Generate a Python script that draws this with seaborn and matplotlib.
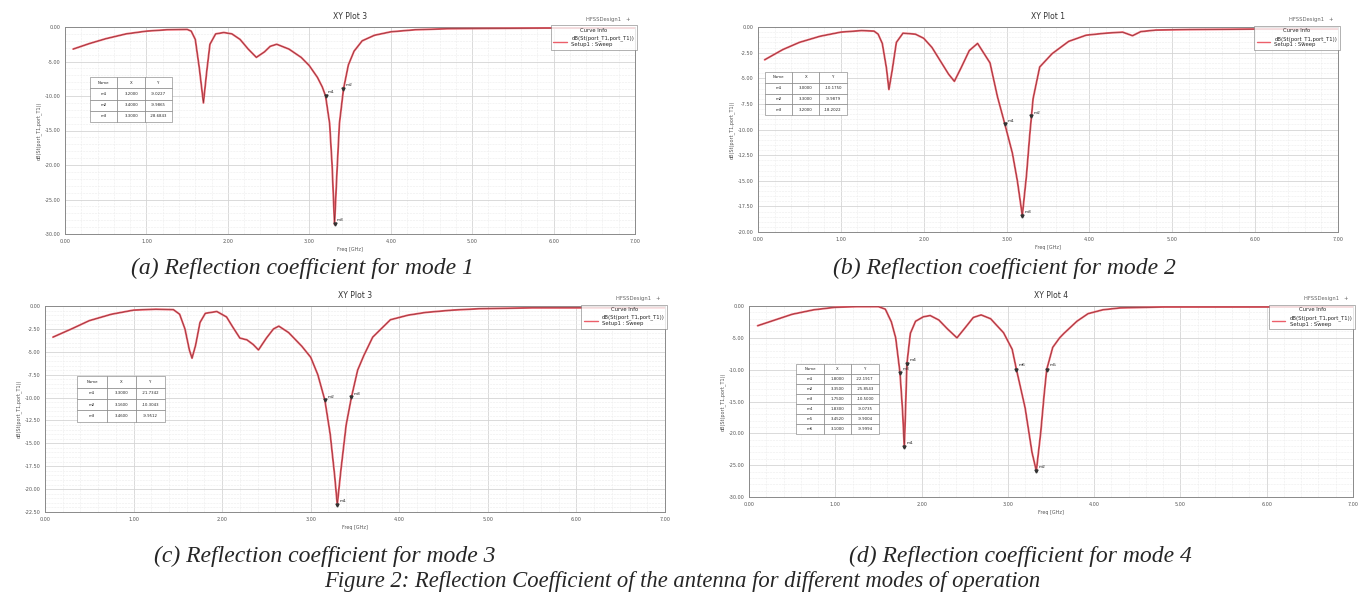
import numpy as np
import matplotlib
matplotlib.use("Agg")
import matplotlib.pyplot as plt
import seaborn as sns

# S11 curves (frequency in GHz, value in dB)
freq_mode1 = [0.10, 0.30, 0.50, 0.75, 1.00, 1.25, 1.50, 1.55, 1.60, 1.65, 1.70, 1.74, 1.78, 1.85,
              1.95, 2.05, 2.15, 2.25, 2.35, 2.45, 2.52, 2.60, 2.75, 2.90, 3.00, 3.10, 3.16, 3.20,
              3.25, 3.28, 3.31, 3.34, 3.37, 3.42, 3.48, 3.55, 3.65, 3.80, 4.00, 4.30, 4.70, 5.20,
              5.90, 6.50, 7.00]
s11_mode1 = [-3.2, -2.4, -1.7, -1.0, -0.6, -0.4, -0.35, -0.6, -1.8, -6.0, -11.0, -6.5, -2.5, -1.0,
             -0.8, -1.0, -1.8, -3.2, -4.4, -3.6, -2.8, -2.5, -3.2, -4.4, -5.6, -7.3, -8.7, -10.0,
             -14.0, -20.0, -28.6, -21.0, -14.0, -9.0, -5.5, -3.5, -2.0, -1.2, -0.7, -0.4, -0.25, -0.2,
             -0.15, -0.15, -0.15]

freq_mode2 = [0.08, 0.30, 0.50, 0.75, 1.00, 1.25, 1.40, 1.45, 1.50, 1.55, 1.58, 1.62, 1.67, 1.75,
              1.90, 2.00, 2.10, 2.20, 2.30, 2.37, 2.45, 2.55, 2.65, 2.80, 2.89, 2.98, 3.07, 3.13,
              3.19, 3.24, 3.28, 3.32, 3.40, 3.55, 3.75, 3.96, 4.20, 4.40, 4.52, 4.62, 4.80, 5.20,
              6.00, 7.00]
s11_mode2 = [-3.2, -2.2, -1.5, -0.9, -0.5, -0.35, -0.4, -0.7, -1.6, -4.0, -6.1, -4.2, -1.5, -0.6,
             -0.7, -1.1, -2.0, -3.3, -4.6, -5.3, -4.0, -2.3, -1.6, -3.5, -6.8, -9.5, -12.3, -15.0,
             -18.4, -14.5, -10.5, -7.0, -3.9, -2.6, -1.4, -0.8, -0.6, -0.5, -0.85, -0.45, -0.3, -0.25,
             -0.2, -0.2]

freq_mode3 = [0.09, 0.30, 0.50, 0.75, 1.00, 1.25, 1.45, 1.52, 1.58, 1.63, 1.66, 1.70, 1.75, 1.81,
              1.94, 2.05, 2.12, 2.20, 2.28, 2.35, 2.41, 2.50, 2.58, 2.64, 2.75, 2.90, 3.00, 3.08,
              3.16, 3.22, 3.27, 3.30, 3.34, 3.40, 3.46, 3.53, 3.60, 3.70, 3.90, 4.10, 4.30, 4.60,
              4.90, 5.50, 7.00]
s11_mode3 = [-3.4, -2.5, -1.6, -0.9, -0.45, -0.35, -0.4, -0.9, -2.5, -4.8, -5.7, -4.3, -1.8, -0.8,
             -0.6, -1.2, -2.3, -3.5, -3.7, -4.2, -4.8, -3.5, -2.5, -2.2, -2.9, -4.4, -5.6, -7.5,
             -10.3, -14.0, -18.5, -21.7, -18.0, -13.0, -9.95, -7.0, -5.4, -3.4, -1.5, -1.0, -0.7, -0.45,
             -0.3, -0.2, -0.2]

freq_mode4 = [0.10, 0.30, 0.50, 0.75, 1.00, 1.25, 1.50, 1.58, 1.65, 1.70, 1.75, 1.78, 1.80, 1.815,
              1.83, 1.87, 1.93, 2.02, 2.10, 2.20, 2.30, 2.41, 2.50, 2.60, 2.69, 2.80, 2.95, 3.05,
              3.10, 3.20, 3.28, 3.33, 3.38, 3.42, 3.45, 3.52, 3.60, 3.65, 3.80, 3.93, 4.10, 4.30,
              4.80, 7.00]
s11_mode4 = [-3.1, -2.2, -1.3, -0.6, -0.2, -0.1, -0.1, -0.5, -2.5, -5.0, -10.5, -16.5, -22.2, -16.0,
             -9.1, -4.3, -2.4, -1.7, -1.5, -2.2, -3.6, -5.0, -3.5, -1.8, -1.4, -2.0, -4.2, -6.8,
             -10.0, -16.0, -23.0, -25.9, -20.0, -14.0, -10.0, -6.5, -5.0, -4.3, -2.4, -1.2, -0.6, -0.3,
             -0.15, -0.15]

# marker tables
markers_mode1 = ["m1", "m2", "m3"]
mx_mode1 = [3.20, 3.42, 3.31]
my_mode1 = [-10.0, -9.0, -28.6]
table_mode1 = [["m1", "3.2000", "-9.0227"], ["m2", "3.4000", "-9.9865"], ["m3", "3.3000", "-28.6843"]]

markers_mode2 = ["m1", "m2", "m3"]
mx_mode2 = [2.98, 3.30, 3.19]
my_mode2 = [-9.5, -8.7, -18.4]
table_mode2 = [["m1", "3.0000", "-10.1750"], ["m2", "3.3000", "-9.9879"], ["m3", "3.2000", "-18.2022"]]

markers_mode3 = ["m1", "m2", "m3"]
mx_mode3 = [3.30, 3.16, 3.46]
my_mode3 = [-21.7, -10.3, -9.95]
table_mode3 = [["m1", "3.3000", "-21.7342"], ["m2", "3.1600", "-10.3043"], ["m3", "3.4600", "-9.9512"]]

markers_mode4 = ["m1", "m2", "m3", "m4", "m5", "m6"]
mx_mode4 = [1.80, 3.33, 1.75, 1.83, 3.45, 3.10]
my_mode4 = [-22.2, -25.9, -10.5, -9.1, -10.0, -10.0]
table_mode4 = [["m1", "1.8000", "-22.1917"], ["m2", "3.3500", "-25.8543"], ["m3", "1.7500", "-10.5000"],
               ["m4", "1.8300", "-9.0735"], ["m5", "3.4520", "-9.9004"], ["m6", "3.1000", "-9.9994"]]

plot_titles = ["XY Plot 3", "XY Plot 1", "XY Plot 3", "XY Plot 4"]
captions = ["(a) Reflection coefficient for mode 1", "(b) Reflection coefficient for mode 2",
            "(c) Reflection coefficient for mode 3", "(d) Reflection coefficient for mode 4"]
fig_caption = "Figure 2: Reflection Coefficient of the antenna for different modes of operation"
y_ranges = [(-30, 0, 5.0), (-20, 0, 2.5), (-22.5, 0, 2.5), (-30, 0, 5.0)]


def draw_panel(fig, rect, freq, s11, yr, title, names, mx, my, table_rows, table_box):
    ax = fig.add_axes(rect)
    sns.lineplot(x=freq, y=s11, ax=ax, color="#ec5f6a", linewidth=1.4, zorder=3)
    sns.lineplot(x=freq, y=s11, ax=ax, color="#6b2a2e", linewidth=0.35, zorder=4)
    ax.set_xlim(0, 7)
    ax.set_ylim(yr[0], yr[1])
    ax.set_xticks(np.arange(0, 7.01, 1.0))
    ax.set_yticks(np.arange(yr[0], yr[1] + 0.01, yr[2]))
    ax.xaxis.set_major_formatter(matplotlib.ticker.FormatStrFormatter("%.2f"))
    ax.yaxis.set_major_formatter(matplotlib.ticker.FormatStrFormatter("%.2f"))
    ax.xaxis.set_minor_locator(matplotlib.ticker.AutoMinorLocator(5))
    ax.yaxis.set_minor_locator(matplotlib.ticker.AutoMinorLocator(5))
    ax.grid(which="major", color="#d4d4d4", linewidth=0.6)
    ax.grid(which="minor", color="#ececec", linewidth=0.4, linestyle="--")
    ax.tick_params(which="both", direction="in", labelsize=3.5, colors="#555555", length=2)
    ax.tick_params(which="minor", length=1.2)
    for sp in ax.spines.values():
        sp.set_color("#8a8a8a")
        sp.set_linewidth(0.7)
    ax.set_xlabel("Freq [GHz]", fontsize=3.5, color="#555555", labelpad=2)
    ax.set_ylabel("dB(St(port_T1,port_T1))", fontsize=3.5, color="#555555", labelpad=2)

    # markers
    ax.plot(mx, my, marker="v", color="#333333", markersize=2.2, linestyle="none", zorder=5)
    for n, x, y in zip(names, mx, my):
        ax.text(x + 0.03, y + 0.25 * yr[2] / 2.5, n, fontsize=3.2, color="#222222", zorder=6)

    tb = ax.table(cellText=table_rows, colLabels=["Name", "X", "Y"], cellLoc="center", bbox=table_box)
    tb.auto_set_font_size(False)
    tb.set_fontsize(2.8)
    for cell in tb.get_celld().values():
        cell.set_edgecolor("#777777")
        cell.set_linewidth(0.4)
    tb.set_zorder(7)

    leg = ax.legend([matplotlib.lines.Line2D([], [], color="#ec5f6a", lw=1)],
                    ["dB(St(port_T1,port_T1))\nSetup1 : Sweep"], title="Curve Info",
                    loc="upper right", bbox_to_anchor=(1.008, 1.02), fontsize=3.8,
                    title_fontsize=3.8, frameon=True, fancybox=False, borderpad=0.5,
                    handlelength=2.6)
    leg.get_frame().set_edgecolor("#777777")
    leg.get_frame().set_linewidth(0.5)
    leg.set_zorder(8)

    # window texts
    x0, y0, w, h = rect
    fig.text(x0 + w / 2, y0 + h + 0.018, title, fontsize=5.5, color="#333333", ha="center", va="center")
    fig.text(x0 + w - 0.003, y0 + h + 0.012, "HFSSDesign1   +", fontsize=3.8, color="#666666",
             ha="right", va="center")
    return ax


sns.set_style("whitegrid")
plt.rcParams["font.family"] = ["DejaVu Sans"]

fig = plt.figure(figsize=(13.63, 5.98), dpi=100)

W, H = 1363.0, 598.0
def px_rect(left, top, right, bottom):
    return [left / W, 1 - bottom / H, (right - left) / W, (bottom - top) / H]

rects = [px_rect(65, 27, 635, 234), px_rect(758, 27, 1338, 232),
         px_rect(45, 306, 665, 512), px_rect(749, 306, 1353, 497)]
table_boxes = [[0.044, 0.541, 0.144, 0.217], [0.012, 0.571, 0.141, 0.209],
               [0.052, 0.437, 0.142, 0.223], [0.078, 0.330, 0.137, 0.366]]

data = [(freq_mode1, s11_mode1, markers_mode1, mx_mode1, my_mode1, table_mode1),
        (freq_mode2, s11_mode2, markers_mode2, mx_mode2, my_mode2, table_mode2),
        (freq_mode3, s11_mode3, markers_mode3, mx_mode3, my_mode3, table_mode3),
        (freq_mode4, s11_mode4, markers_mode4, mx_mode4, my_mode4, table_mode4)]

for i, (f, s, names, mx, my, rows) in enumerate(data):
    draw_panel(fig, rects[i], f, s, y_ranges[i], plot_titles[i], names, mx, my, rows, table_boxes[i])

cap_style = dict(family="Liberation Serif", style="italic", fontsize=17, ha="center", va="center")
fig.text(302 / W, 1 - 268 / H, captions[0], **cap_style)
fig.text(1004 / W, 1 - 268 / H, captions[1], **cap_style)
fig.text(325 / W, 1 - 556 / H, captions[2], **cap_style)
fig.text(1020 / W, 1 - 556 / H, captions[3], **cap_style)
fig.text(682 / W, 1 - 581 / H, fig_caption, family="Liberation Serif", style="italic",
         fontsize=16.3, ha="center", va="center")

fig.savefig("out.png", dpi=100)
